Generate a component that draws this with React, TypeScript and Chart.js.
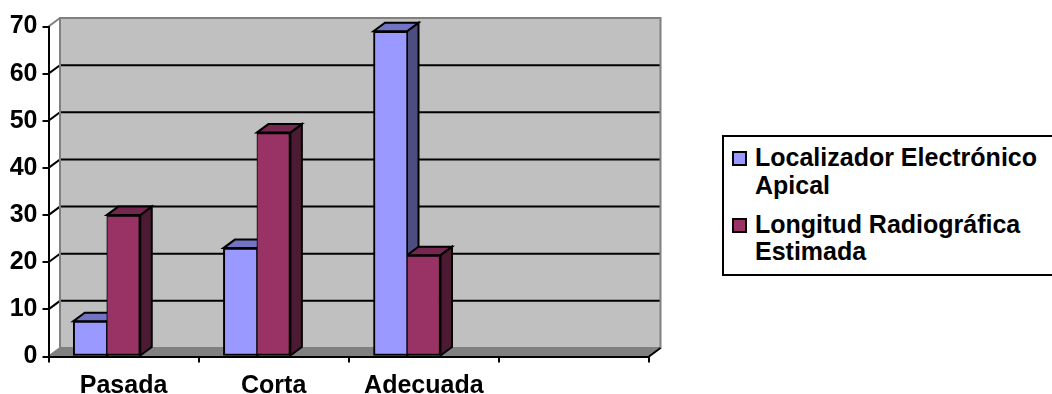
import React, { useEffect, useRef } from 'react';
import { Chart, registerables } from 'chart.js';

Chart.register(...registerables);

// ---- data ----
const CATEGORIES = ['Pasada', 'Corta', 'Adecuada', ''];
const SERIES_NAMES = ['Localizador Electrónico Apical', 'Longitud Radiográfica Estimada'];
const LEGEND_LINES = [
  ['Localizador Electrónico', 'Apical'],
  ['Longitud Radiográfica', 'Estimada'],
];
const LOCALIZADOR = [7.5, 23, 69];
const LONGITUD = [30, 47.5, 21.5];
const Y_MIN = 0;
const Y_MAX = 70;
const Y_STEP = 10;

// ---- styles ----
const FONT = "'Liberation Sans', Arial, Helvetica, sans-serif";
const FRONT = ['#9999FF', '#993366'];
const TOP = ['#7373C4', '#74274F'];
const SIDE = ['#4D4D80', '#4D1A33'];
const WALL = '#C0C0C0';
const FLOOR = '#808080';
const EDGE = '#808080';
const DX = 11.5;
const DY = -8.5;
const GROUP_SHIFT = -0.112; // bars sit left of category centre (Excel 3D layout)

const walls3d = {
  id: 'walls3d',
  beforeDraw(chart: any) {
    const { ctx, chartArea, scales } = chart;
    const { left, right, top, bottom } = chartArea;
    const y = scales.y;
    ctx.save();
    ctx.fillStyle = WALL;
    ctx.fillRect(left + DX, top + DY, right - left, bottom - top);
    ctx.beginPath();
    ctx.moveTo(left, bottom);
    ctx.lineTo(right, bottom);
    ctx.lineTo(right + DX, bottom + DY);
    ctx.lineTo(left + DX, bottom + DY);
    ctx.closePath();
    ctx.fillStyle = FLOOR;
    ctx.fill();
    ctx.lineWidth = 2;
    y.ticks.forEach((t: any) => {
      const v = t.value;
      const py = y.getPixelForValue(v);
      const inner = v > y.min && v < y.max;
      ctx.strokeStyle = inner ? '#000' : EDGE;
      ctx.beginPath();
      ctx.moveTo(left, py);
      ctx.lineTo(left + DX, py + DY);
      if (inner) ctx.lineTo(right + DX, py + DY);
      ctx.stroke();
    });
    ctx.strokeStyle = EDGE;
    ctx.lineWidth = 2;
    ctx.strokeRect(left + DX, top + DY, right - left, bottom - top);
    ctx.strokeStyle = '#000';
    ctx.beginPath();
    ctx.moveTo(right, bottom);
    ctx.lineTo(right + DX, bottom + DY);
    ctx.stroke();
    ctx.restore();
  },
  beforeDatasetsDraw(chart: any) {
    const { ctx } = chart;
    ctx.save();
    ctx.lineWidth = 2;
    ctx.strokeStyle = '#000';
    ctx.lineJoin = 'miter';
    const poly = (pts: number[][], fill: string) => {
      ctx.beginPath();
      ctx.moveTo(pts[0][0], pts[0][1]);
      for (let i = 1; i < pts.length; i++) ctx.lineTo(pts[i][0], pts[i][1]);
      ctx.closePath();
      ctx.fillStyle = fill;
      ctx.fill();
      ctx.stroke();
    };
    chart.data.datasets.forEach((_ds: any, di: number) => {
      const meta = chart.getDatasetMeta(di);
      meta.data.forEach((el: any) => {
        const { x, y, base, width } = el.getProps(['x', 'y', 'base', 'width'], true);
        const l = x - width / 2;
        const r = x + width / 2;
        poly([[r, y], [r + DX, y + DY], [r + DX, base + DY], [r, base]], SIDE[di]);
        poly([[l, y], [r, y], [r + DX, y + DY], [l + DX, y + DY]], TOP[di]);
      });
    });
    ctx.restore();
  },
};

const toPoints = (vals: number[]) => vals.map((v, i) => ({ x: i + 0.5 + GROUP_SHIFT, y: v }));

export default function App() {
  const ref = useRef<HTMLCanvasElement>(null);
  useEffect(() => {
    const font = { family: FONT, size: 25, weight: 'bold' as const };
    const chart = new Chart(ref.current as HTMLCanvasElement, {
      type: 'bar',
      data: {
        datasets: [
          {
            label: SERIES_NAMES[0],
            data: toPoints(LOCALIZADOR) as any,
            backgroundColor: FRONT[0],
            borderColor: '#000',
            borderWidth: { top: 2, left: 2, bottom: 2, right: 1 },
            borderSkipped: false,
            xAxisID: 'xb',
            yAxisID: 'y',
          },
          {
            label: SERIES_NAMES[1],
            data: toPoints(LONGITUD) as any,
            backgroundColor: FRONT[1],
            borderColor: '#000',
            borderWidth: { top: 2, left: 1, bottom: 2, right: 2 },
            borderSkipped: false,
            xAxisID: 'xb',
            yAxisID: 'y',
          },
        ],
      },
      options: {
        responsive: false,
        animation: false,
        devicePixelRatio: 1,
        barThickness: 33.5,
        layout: { padding: { left: 0, top: 26.5, right: 403, bottom: 0 } },
        plugins: { legend: { display: false }, tooltip: { enabled: false } },
        scales: {
          xb: {
            type: 'linear',
            display: false,
            min: 0,
            max: CATEGORIES.length,
            offset: false,
          },
          x: {
            type: 'category',
            labels: CATEGORIES,
            offset: true,
            position: 'bottom',
            grid: { offset: true, drawOnChartArea: false, drawTicks: true, tickLength: 6, color: '#000', lineWidth: 2 },
            border: { display: true, color: '#000', width: 2 },
            ticks: { font, color: '#000', padding: 9, maxRotation: 0, autoSkip: false },
            afterFit: (s: any) => { s.height = 37.5; },
          },
          y: {
            type: 'linear',
            min: Y_MIN,
            max: Y_MAX,
            ticks: { stepSize: Y_STEP, font, color: '#000', padding: 5 },
            grid: { drawOnChartArea: false, drawTicks: true, tickLength: 6, color: '#000', lineWidth: 2 },
            border: { display: true, color: '#000', width: 2 },
            afterFit: (s: any) => { s.width = 48.5; },
          },
        },
      } as any,
      plugins: [walls3d],
    });
    return () => chart.destroy();
  }, []);

  const textStyle: React.CSSProperties = {
    fontFamily: FONT,
    fontWeight: 'bold',
    fontSize: 25,
    lineHeight: '27.5px',
    color: '#000',
    whiteSpace: 'nowrap',
  };

  return (
    <div style={{ position: 'fixed', left: 0, top: 0, width: 1052, height: 394, overflow: 'hidden', background: '#fff' }}>
      <canvas ref={ref} width={1052} height={394} style={{ display: 'block', width: 1052, height: 394 }} />
      <div
        style={{
          position: 'absolute',
          left: 722,
          top: 135,
          width: 345,
          height: 141,
          boxSizing: 'border-box',
          border: '2px solid #000',
          background: '#fff',
        }}
      >
        {LEGEND_LINES.map((lines, i) => (
          <div key={i} style={{ position: 'absolute', left: 0, top: 7 + i * 66.5 }}>
            <div
              style={{
                position: 'absolute',
                left: 7.5,
                top: 7,
                width: 15,
                height: 15,
                boxSizing: 'border-box',
                border: '2px solid #000',
                background: FRONT[i],
              }}
            />
            <div style={{ position: 'absolute', left: 31, top: 0, ...textStyle }}>
              {lines.map((ln, j) => (
                <div key={j}>{ln}</div>
              ))}
            </div>
          </div>
        ))}
      </div>
    </div>
  );
}
